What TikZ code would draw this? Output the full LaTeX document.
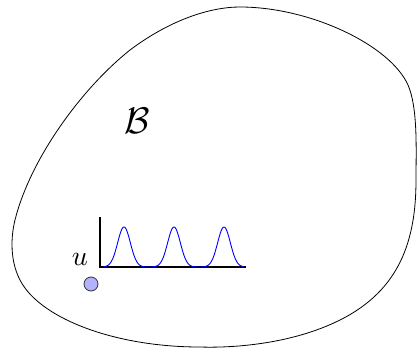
\documentclass[tikz,border=0pt]{standalone}
\begin{document}
\begin{tikzpicture}[x=1pt,y=-1pt,
  blob/.style={draw=black,line width=0.8pt},
  axisline/.style={draw=black,line width=1.1pt},
  wave/.style={draw=blue,line width=0.9pt},
  dot/.style={circle,draw=black!80,line width=0.8pt,fill={rgb,255:red,178;green,178;blue,255},minimum size=14pt,inner sep=0pt}]
\useasboundingbox (0,0) rectangle (417,348);
\draw[blob] (240,7) .. controls (310,7) and (390,45) .. (408,85)
  .. controls (418,108) and (416,150) .. (416,180)
  .. controls (416,240) and (400,290) .. (340,320)
  .. controls (290,345) and (230,348) .. (200,347)
  .. controls (120,347) and (50,322) .. (25,288)
  .. controls (10,268) and (10,240) .. (15,220)
  .. controls (30,160) and (80,90) .. (130,50)
  .. controls (170,20) and (210,7) .. (240,7) -- cycle;
\coordinate (o) at (100,267);
\coordinate (ytop) at (100,217);
\coordinate (xend) at (246,267);
\draw[axisline] (ytop) -- (o) -- (xend);
\draw[wave] plot[domain=103:244,samples=300,smooth] (\x,{267-40*(exp(-((\x-124)/9)^2)+exp(-((\x-174)/9)^2)+exp(-((\x-224)/9)^2))});
\node[dot] (c) at (91,284) {};
\node[scale=2.8] (u) at (80,259) {$u$};
\node[scale=3.7] (B) at (137,121) {$\mathcal{B}$};
\end{tikzpicture}
\end{document}
